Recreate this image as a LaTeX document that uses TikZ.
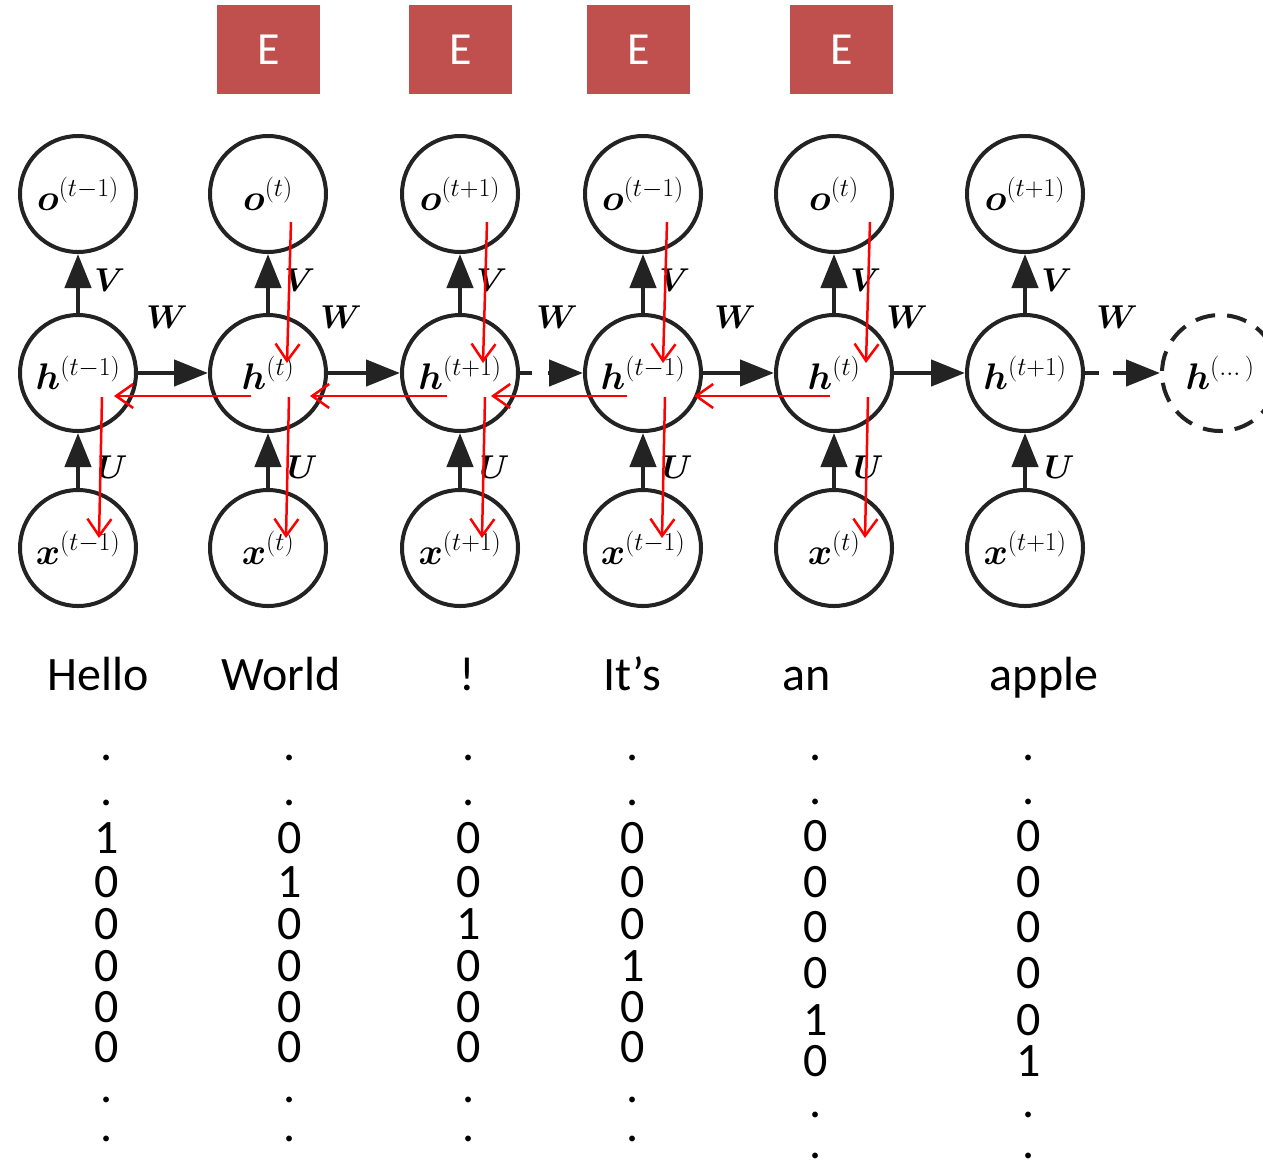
\RequirePackage{fix-cm}
\documentclass[tikz,border=0pt]{standalone}
\usepackage{amsmath,bm}
\usepackage{fontspec}
\usepackage{tikz}
\usetikzlibrary{positioning, arrows.meta}
\newfontfamily\calibri{Carlito}
\definecolor{embedred}{RGB}{192,80,77}
\definecolor{unitgray}{RGB}{35,35,35}

\begin{document}
\begin{tikzpicture}[x=1pt, y=-1pt,
    unit/.style={circle, draw=unitgray, line width=4pt, minimum size=116pt,
                 inner sep=0pt, font=\fontsize{37}{40}\selectfont},
    flow/.style={-{Triangle[length=34pt, width=26pt]}, line width=4.5pt, draw=unitgray},
    weight/.style={inner sep=0pt, font=\fontsize{33}{36}\selectfont},
    embed/.style={rectangle, fill=embedred, text=white, minimum width=103pt,
                  minimum height=89pt, font=\calibri\fontsize{46}{50}\selectfont},
    word/.style={anchor=base, inner sep=0pt, font=\calibri\fontsize{48}{58}\selectfont},
    back/.style={-{Straight Barb[length=17pt, width=24pt]}, line width=2.5pt, red}
]
    \useasboundingbox[fill=white] (0,0) rectangle (1263,1160);

    % Embedding boxes
    \foreach \i/\ex in {1/268.5, 2/460.5, 3/638.5, 4/841.5}
        \node[embed] (e\i) at (\ex,49.5) {E};

    % Unrolled cells
    \foreach \i/\cx/\s in {1/78/t-1, 2/268/t, 3/460/t+1, 4/643/t-1, 5/834/t, 6/1025/t+1} {
        \node[unit] (o\i) at (\cx,194) {$\bm{o}^{(\s)}$};
        \node[unit] (h\i) at (\cx,373) {$\bm{h}^{(\s)}$};
        \node[unit] (x\i) at (\cx,548) {$\bm{x}^{(\s)}$};
        \draw[flow] (h\i) -- node[weight, pos=0.55, right=14pt] (v\i) {$\bm{V}$} (o\i);
        \draw[flow] (x\i) -- node[weight, pos=0.38, right=17pt] (u\i) {$\bm{U}$} (h\i);
    }
    \node[unit, dash pattern=on 20pt off 12pt] (h7) at (1220,373) {$\bm{h}^{(\dots)}$};

    % Recurrent connections
    \foreach \i/\j in {1/2, 2/3, 4/5, 5/6}
        \draw[flow] (h\i) -- (h\j);
    \draw[flow, dash pattern=on 12pt off 16pt] (h3) -- (h4);
    \draw[flow, dash pattern=on 14pt off 14pt] (h6) -- (h7);
    \foreach \i/\wx in {1/167, 2/341, 3/557, 4/735, 5/907, 6/1117}
        \node[weight] (w\i) at (\wx,317) {$\bm{W}$};

    % Backward pass
    \foreach \i/\dx in {2/23, 3/27, 4/24, 5/36}
        \draw[back] ([shift={(\dx,28)}]o\i.center) -- ([shift={(\dx-4,-10)}]h\i.center);
    \foreach \i/\dx in {1/24, 2/21, 3/25, 4/22, 5/34}
        \draw[back] ([shift={(\dx,24)}]h\i.center) -- ([shift={(\dx-3,-10)}]x\i.center);
    \foreach \i/\j/\da/\db in {2/1/-17/36, 3/2/-13/42, 4/3/-16/31, 5/4/-4/51}
        \draw[back] ([shift={(\da,23)}]h\i.center) -- ([shift={(\db,23)}]h\j.center);

    % Words
    \foreach \i/\wx/\w in {1/98/Hello, 2/281/World, 3/467/!, 4/632/It’s, 5/807/an, 6/1044/apple}
        \node[word] (t\i) at (\wx,690) {\w};

    % One-hot vectors
    \foreach \c/\bx in {1/107, 2/290, 3/469, 4/633, 5/816, 6/1029} {
        \foreach \k/\ya/\yb in {1/760/760, 2/805/804, 3/853/851, 4/897/897, 5/939/942,
                                6/981/988, 7/1022/1035, 8/1062/1076, 9/1102/1117, 10/1141/1158} {
            \ifnum\c>4 \def\bity{\yb}\else\def\bity{\ya}\fi
            \ifnum\k<3 \def\bitval{.}\else
                \ifnum\k>8 \def\bitval{.}\else
                    \ifnum\numexpr\k-2\relax=\c \def\bitval{1}\else\def\bitval{0}\fi
                \fi
            \fi
            \node[word] (b\c-\k) at (\bx,\bity) {\bitval};
        }
    }
\end{tikzpicture}
\end{document}
